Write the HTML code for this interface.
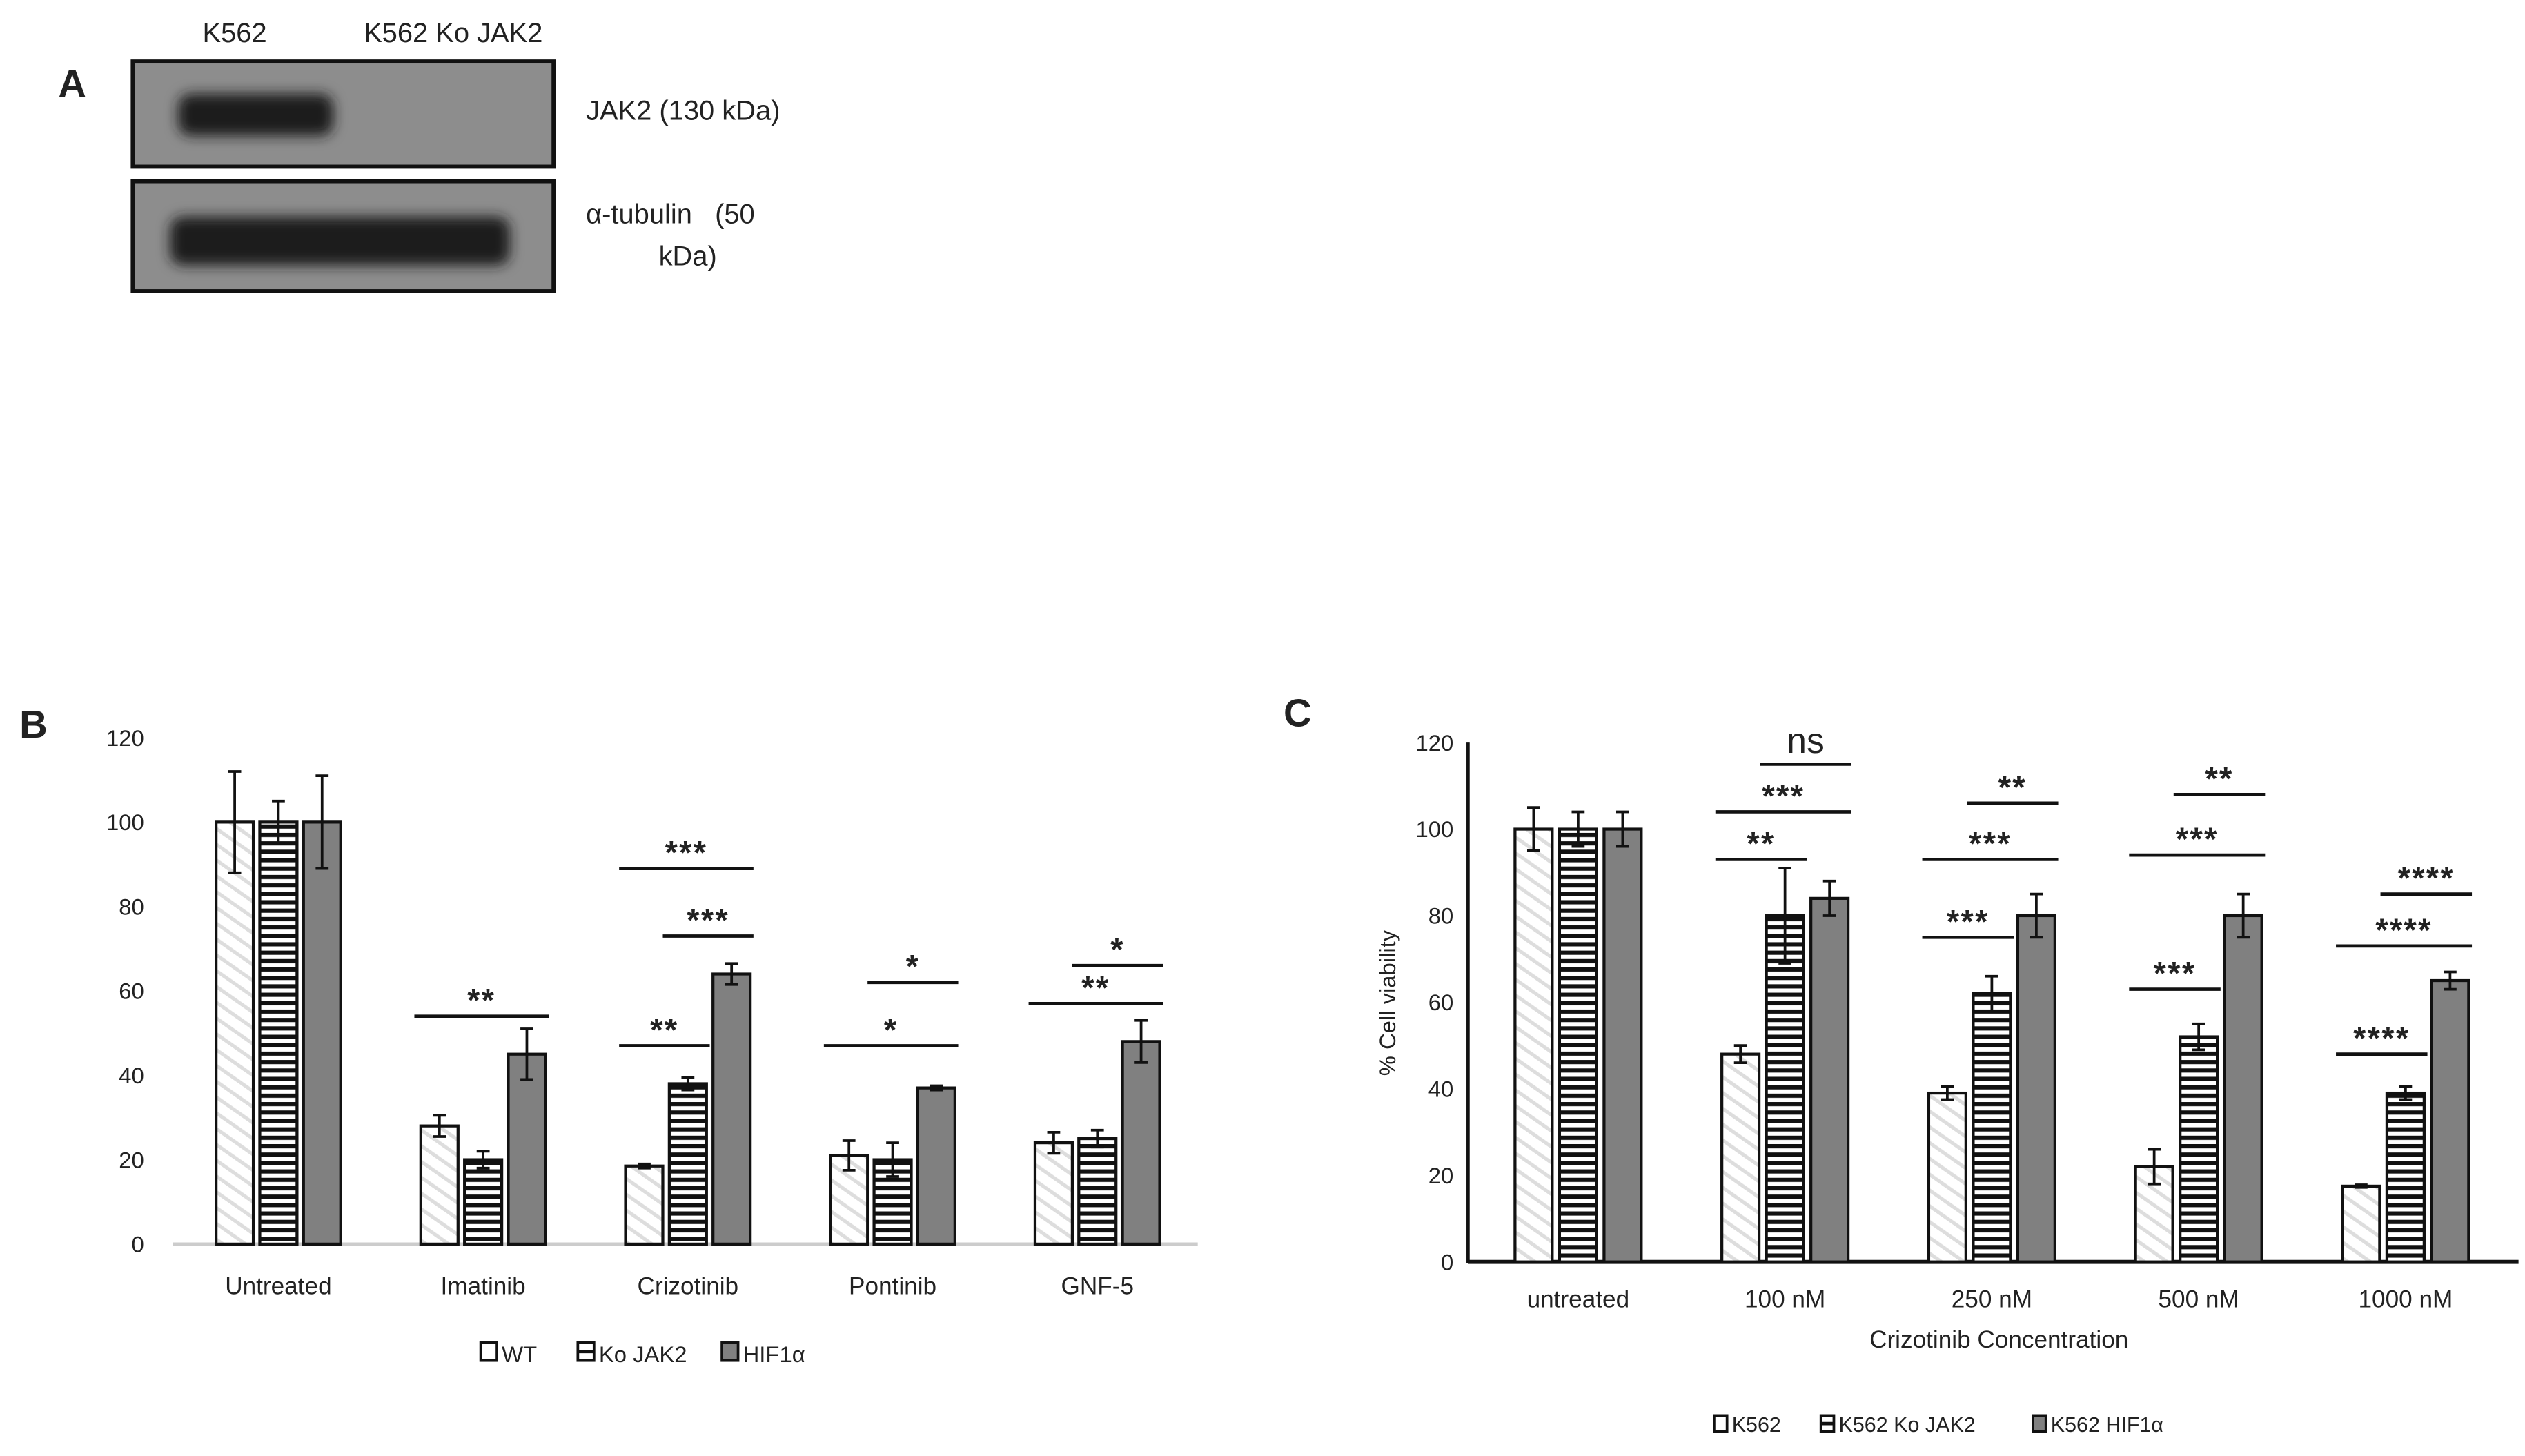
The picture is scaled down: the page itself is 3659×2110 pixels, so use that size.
<!DOCTYPE html>
<html><head><meta charset="utf-8"><style>
html,body{margin:0;padding:0;background:#fff;}
svg{display:block;}
text{font-family:"Liberation Sans Narrow","Liberation Sans",sans-serif;fill:#222;}
</style></head><body>
<svg id="fig" width="3659" height="2110" viewBox="0 0 1560 900" preserveAspectRatio="none" xmlns="http://www.w3.org/2000/svg">
<defs>
<filter id="blur" x="-20%" y="-50%" width="140%" height="200%"><feGaussianBlur stdDeviation="4"/></filter>
<pattern id="diag" patternUnits="userSpaceOnUse" width="8" height="8" patternTransform="rotate(-55)"><rect width="8" height="8" fill="#fff"/><rect width="2.2" height="8" fill="#ddd"/></pattern>
<pattern id="horiz" patternUnits="userSpaceOnUse" width="6" height="5.2"><rect width="6" height="5.2" fill="#fff"/><rect width="6" height="2.6" fill="#111"/></pattern>
</defs>
<!-- Panel A -->
<g>
<text x="36" y="60" font-size="24" font-weight="bold">A</text>
<text x="145" y="26" font-size="17" text-anchor="middle">K562</text>
<text x="280" y="26" font-size="17" text-anchor="middle">K562 Ko JAK2</text>
<rect x="82" y="38" width="260" height="65" fill="#8d8d8d" stroke="#111" stroke-width="2.5"/>
<rect x="110" y="58" width="96" height="26" rx="8" fill="#1d1d1d" filter="url(#blur)"/>
<rect x="82" y="112" width="260" height="68" fill="#8d8d8d" stroke="#111" stroke-width="2.5"/>
<rect x="105" y="134" width="210" height="30" rx="8" fill="#1d1d1d" filter="url(#blur)"/>
<text x="362" y="74" font-size="17">JAK2 (130 kDa)</text>
<text x="362" y="138" font-size="17">α-tubulin&#160;&#160;&#160;(50</text>
<text x="407" y="164" font-size="17">kDa)</text>
</g>
<g id="panelB"></g>
<g id="panelC"></g>
</svg>
<script>
// ---- Panel B data ----
const bCategories = ["Untreated","Imatinib","Crizotinib","Pontinib","GNF-5"];
const bWT = [100, 28, 18.5, 21, 24];
const bKo = [100, 20, 38, 20, 25];
const bHIF = [100, 45, 64, 37, 48];
const bWTErr = [12, 2.5, 0.5, 3.5, 2.5];
const bKoErr = [5, 2, 1.5, 4, 2];
const bHIFErr = [11, 6, 2.5, 0.5, 5];
const bTicks = [0, 20, 40, 60, 80, 100, 120];
const bSeriesNames = ["WT","Ko JAK2","HIF1α"];
// significance: [category, fromSeries, toSeries, yValue, label]
const bSig = [[1,0,2,54,"**"],[2,0,2,89,"***"],[2,1,2,73,"***"],[2,0,1,47,"**"],[3,1,2,62,"*"],[3,0,2,47,"*"],[4,1,2,66,"*"],[4,0,2,57,"**"]];
// ---- Panel C data ----
const cCategories = ["untreated","100 nM","250 nM","500 nM","1000 nM"];
const cWT = [100, 48, 39, 22, 17.5];
const cKo = [100, 80, 62, 52, 39];
const cHIF = [100, 84, 80, 80, 65];
const cWTErr = [5, 2, 1.5, 4, 0.3];
const cKoErr = [4, 11, 4, 3, 1.5];
const cHIFErr = [4, 4, 5, 5, 2];
const cTicks = [0, 20, 40, 60, 80, 100, 120];
const cSeriesNames = ["K562","K562 Ko JAK2","K562 HIF1α"];
const cSig = [[1,1,2,115,"ns"],[1,0,2,104,"***"],[1,0,1,93,"**"],[2,1,2,106,"**"],[2,0,2,93,"***"],[2,0,1,75,"***"],[3,1,2,108,"**"],[3,0,2,94,"***"],[3,0,1,63,"***"],[4,1,2,85,"****"],[4,0,2,73,"****"],[4,0,1,48,"****"]];

const NS="http://www.w3.org/2000/svg";
function mk(parent,tag,attrs,txt){const e=document.createElementNS(NS,tag);for(const k in attrs)e.setAttribute(k,attrs[k]);if(txt!==undefined)e.textContent=txt;parent.appendChild(e);return e;}
const fills=["url(#diag)","url(#horiz)","#808080"];

function drawChart(g,cfg){
  const y=v=>cfg.y0-(v/120)*(cfg.y0-cfg.y120);
  const xc=i=>cfg.x0+i*cfg.step;
  const barX=(i,s)=>xc(i)+(s-1)*cfg.pitch-cfg.bw/2;
  cfg.ticks.forEach(t=>{
    const e=mk(g,"text",{x:cfg.tickX,y:y(t)+5,"font-size":14,"text-anchor":"end"},t);
    
    
  });
  const series=[cfg.s0,cfg.s1,cfg.s2], errs=[cfg.e0,cfg.e1,cfg.e2];
  cfg.cats.forEach((c,i)=>{
    for(let s=0;s<3;s++){
      const v=series[s][i], bx=barX(i,s);
      const r=mk(g,"rect",{x:bx,y:y(v),width:cfg.bw,height:y(0)-y(v),fill:fills[s],stroke:"#111","stroke-width":1.8});
      
      
      const cx=bx+cfg.bw/2, ev=errs[s][i];
      const eb=mk(g,"path",{d:`M${cx},${y(v+ev)}V${y(v-ev)}M${cx-4},${y(v+ev)}H${cx+4}M${cx-4},${y(v-ev)}H${cx+4}`,stroke:"#111","stroke-width":1.6,fill:"none"});
      
      
    }
    const t=mk(g,"text",{x:xc(i),y:cfg.catY,"font-size":15,"text-anchor":"middle"},c);
    
    
  });
  cfg.sig.forEach(sg=>{
    const [i,a,b,v,lab]=sg;
    const x1=barX(i,a)-4, x2=barX(i,b)+cfg.bw+2;
    const l=mk(g,"line",{x1:x1,x2:x2,y1:y(v),y2:y(v),stroke:"#111","stroke-width":2});
    
    
    const isNs=lab==="ns";
    const t=mk(g,"text",{x:(x1+x2)/2,y:y(v)-(isNs?7:3),"font-size":isNs?22:20,"font-weight":isNs?"normal":"bold","text-anchor":"middle","letter-spacing":isNs?0:1},lab);
    
    
  });
}

// Panel B
const gB=document.getElementById("panelB");
const bl=mk(gB,"text",{x:12,y:456,"font-size":24,"font-weight":"bold"},"B");


const bAxis=mk(gB,"line",{x1:107,x2:740,y1:769,y2:769,stroke:"#ccc","stroke-width":2});


drawChart(gB,{y0:769,y120:456,x0:172,step:126.5,pitch:27,bw:23,tickX:89,catY:800,ticks:bTicks,cats:bCategories,s0:bWT,s1:bKo,s2:bHIF,e0:bWTErr,e1:bKoErr,e2:bHIFErr,sig:bSig});
[[297,"WT"],[357,"Ko JAK2"],[446,"HIF1α"]].forEach((d,k)=>{
  const r=mk(gB,"rect",{x:d[0],y:830,width:10,height:11,fill:k===2?"#808080":"#fff",stroke:"#111","stroke-width":1.6});
  
  
  if(k===1){mk(gB,"line",{x1:d[0],x2:d[0]+10,y1:835.5,y2:835.5,stroke:"#111","stroke-width":2});}
  const t=mk(gB,"text",{x:d[0]+13,y:842,"font-size":14},bSeriesNames[k]);
  
  
});

// Panel C
const gC=document.getElementById("panelC");
const cl=mk(gC,"text",{x:793,y:449,"font-size":24,"font-weight":"bold"},"C");


const cy=mk(gC,"line",{x1:907,x2:907,y1:459,y2:781,stroke:"#111","stroke-width":2});


const cx=mk(gC,"line",{x1:907,x2:1556,y1:780,y2:780,stroke:"#111","stroke-width":2.5});


drawChart(gC,{y0:780,y120:459,x0:975,step:127.8,pitch:27.5,bw:23,tickX:898,catY:808,ticks:cTicks,cats:cCategories,s0:cWT,s1:cKo,s2:cHIF,e0:cWTErr,e1:cKoErr,e2:cHIFErr,sig:cSig});
const yt=mk(gC,"text",{x:0,y:0,"font-size":14,"text-anchor":"middle",transform:"translate(862,620) rotate(-90)"},"% Cell viability");


const xt=mk(gC,"text",{x:1235,y:833,"font-size":15,"text-anchor":"middle"},"Crizotinib Concentration");


[[1059,"K562"],[1125,"K562 Ko JAK2"],[1256,"K562 HIF1α"]].forEach((d,k)=>{
  const r=mk(gC,"rect",{x:d[0],y:875,width:8,height:10,fill:k===2?"#808080":"#fff",stroke:"#111","stroke-width":1.6});
  
  
  if(k===1){mk(gC,"line",{x1:d[0],x2:d[0]+8,y1:880,y2:880,stroke:"#111","stroke-width":2});}
  const t=mk(gC,"text",{x:d[0]+11,y:885,"font-size":13},cSeriesNames[k]);
  
  
});
</script>
</body></html>
